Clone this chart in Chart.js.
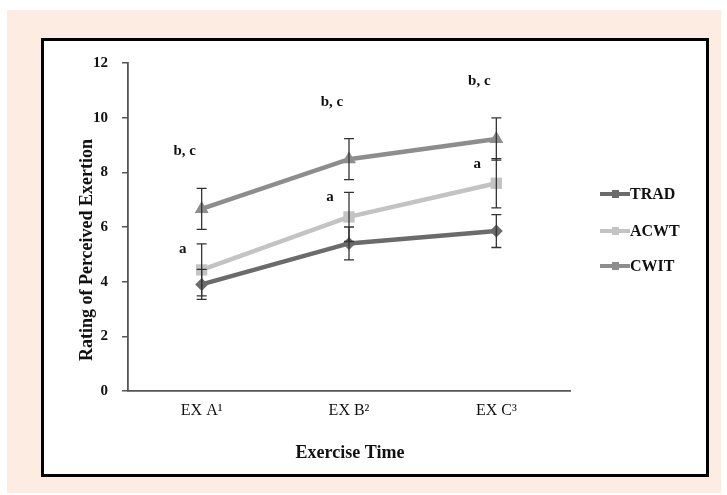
<!DOCTYPE html>
<html lang="en">
<head>
    <meta charset="UTF-8">
    <title>Rating of Perceived Exertion</title>
    <script src="https://cdn.jsdelivr.net/npm/chart.js"></script>
    <style>
        html, body { margin: 0; padding: 0; background: #fff; }
        .wrap { position: relative; width: 727px; height: 495px; }
    </style>
</head>
<body>
    <div class="wrap"><canvas id="rpeChart" width="727" height="495"></canvas></div>

    <script>
        // data
        const categories = ['EX A\u00B9', 'EX B\u00B2', 'EX C\u00B3'];
        const seriesNames = ['TRAD', 'ACWT', 'CWIT'];
        const trad = [3.9, 5.4, 5.85];
        const acwt = [4.43, 6.37, 7.6];
        const cwit = [6.66, 8.48, 9.22];
        const tradErr = [0.55, 0.6, 0.6];
        const acwtErr = [0.95, 0.9, 0.9];
        const cwitErr = [0.75, 0.75, 0.77];
        const yTicks = [0, 2, 4, 6, 8, 10, 12];
        const sigUpper = ['b, c', 'b, c', 'b, c'];
        const sigLower = ['a', 'a', 'a'];

        const serif = '"Liberation Serif", "Times New Roman", serif';
        const colors = ['#6b6b6b', '#c3c3c3', '#8d8d8d'];
        const shapes = ['rectRot', 'rect', 'triangle'];
        const errs = [tradErr, acwtErr, cwitErr];

        const frame = {
            id: 'frame',
            beforeDraw(chart) {
                const c = chart.ctx;
                c.save();
                c.fillStyle = '#fff';
                c.fillRect(0, 0, chart.width, chart.height);
                c.fillStyle = '#fdece2';
                c.fillRect(7, 10, 714, 483);
                c.fillStyle = '#fff';
                c.fillRect(42, 39, 666, 437);
                c.strokeStyle = '#000';
                c.lineWidth = 3;
                c.strokeRect(42.5, 39.5, 665, 436);
                c.restore();
            },
            afterDatasetsDraw(chart) {
                const c = chart.ctx;
                const x = chart.scales.x, y = chart.scales.y;
                c.save();
                // error bars
                c.strokeStyle = '#333';
                c.lineWidth = 1.3;
                chart.data.datasets.forEach((ds, i) => {
                    ds.data.forEach((v, j) => {
                        const px = x.getPixelForValue(j);
                        const top = y.getPixelForValue(v + errs[i][j]);
                        const bot = y.getPixelForValue(v - errs[i][j]);
                        c.beginPath();
                        c.moveTo(px, top); c.lineTo(px, bot);
                        c.moveTo(px - 5, top); c.lineTo(px + 5, top);
                        c.moveTo(px - 5, bot); c.lineTo(px + 5, bot);
                        c.stroke();
                    });
                });
                // significance letters
                c.fillStyle = '#111';
                c.font = 'bold 15px ' + serif;
                c.textAlign = 'center';
                c.textBaseline = 'middle';
                categories.forEach((cat, j) => {
                    const px = x.getPixelForValue(j);
                    const cTop = y.getPixelForValue(cwit[j] + cwitErr[j]);
                    const aTop = y.getPixelForValue(acwt[j] + acwtErr[j]);
                    c.fillText(sigUpper[j], px - 17, cTop - 37);
                    c.fillText(sigLower[j], px - 19, aTop + 5);
                });
                // axis titles
                c.font = 'bold 18px ' + serif;
                c.fillText('Exercise Time', (x.left + x.right) / 2 + 1, 453);
                c.translate(87, 250);
                c.rotate(-Math.PI / 2);
                c.fillText('Rating of Perceived Exertion', 0, 0);
                c.restore();

                // legend
                c.save();
                c.font = 'bold 16px ' + serif;
                c.textBaseline = 'middle';
                c.textAlign = 'left';
                const rows = [194, 231, 266];
                chart.data.datasets.forEach((ds, i) => {
                    const ly = rows[i];
                    c.strokeStyle = ds.borderColor;
                    c.lineWidth = 4;
                    c.beginPath();
                    c.moveTo(600, ly); c.lineTo(630, ly);
                    c.stroke();
                    c.fillStyle = ds.borderColor;
                    c.fillRect(612, ly - 4, 7, 8);
                    c.fillStyle = '#111';
                    c.fillText(ds.label, 630, ly + 1);
                });
                c.restore();
            }
        };

        const datasets = [trad, acwt, cwit].map((vals, i) => ({
            label: seriesNames[i],
            data: vals,
            borderColor: colors[i],
            backgroundColor: colors[i],
            borderWidth: 4.5,
            pointStyle: shapes[i],
            pointRadius: i === 0 ? 6.5 : 8,
            pointBorderWidth: 0,
            tension: 0
        }));

        new Chart(document.getElementById('rpeChart'), {
            type: 'line',
            data: { labels: categories, datasets: datasets },
            plugins: [frame],
            options: {
                responsive: false,
                animation: false,
                layout: { padding: { left: 73, right: 157, top: 63, bottom: 0 } },
                plugins: { legend: { display: false }, tooltip: { enabled: false } },
                scales: {
                    x: {
                        offset: true,
                        grid: { display: false, drawTicks: false },
                        border: { display: true, color: '#555', width: 1.8 },
                        ticks: { color: '#111', padding: 10, font: { family: serif, size: 16 } },
                        afterFit(s) { s.height = 104; }
                    },
                    y: {
                        min: 0,
                        max: 12,
                        afterBuildTicks(s) { s.ticks = yTicks.map(v => ({ value: v })); },
                        grid: { drawOnChartArea: false, drawTicks: true, tickLength: 6, color: '#555', lineWidth: 1.5 },
                        border: { display: true, color: '#555', width: 1.8 },
                        ticks: { color: '#111', padding: 14, font: { family: serif, size: 15, weight: 'bold' } },
                        afterFit(s) { s.width = 55; }
                    }
                }
            }
        });
    </script>
</body>
</html>
